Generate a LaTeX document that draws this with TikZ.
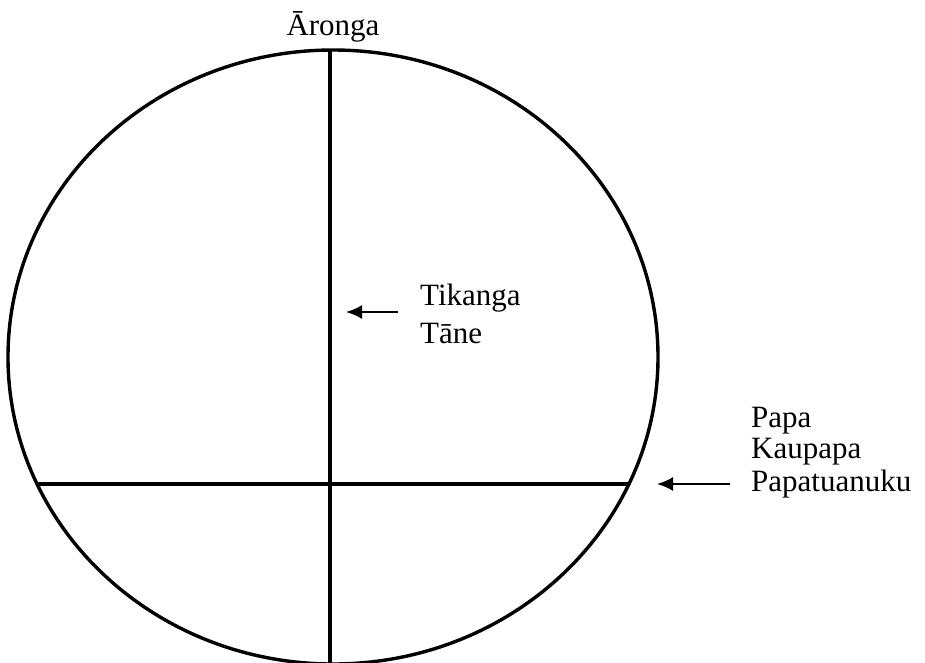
\documentclass[tikz,border=0pt]{standalone}
\usepackage{fontspec}
\setmainfont{Liberation Serif}
\usetikzlibrary{arrows.meta}
\begin{document}
\begin{tikzpicture}[x=1pt,y=-1pt,
  lbl/.style={anchor=base west,inner sep=0pt,font=\fontsize{31}{37}\selectfont},
  heavy/.style={line width=3.4pt},
  pointer/.style={line width=2pt,-{Latex[length=16pt,width=14pt]}}]
\useasboundingbox (0,0) rectangle (925,662);
\clip (0,0) rectangle (925,662);
% circle
\draw[heavy] (333,357) ellipse [x radius=325, y radius=307];
% lines
\coordinate (vt) at (330,50);
\coordinate (vb) at (330,670);
\coordinate (hl) at (37.5,484);
\coordinate (hr) at (628.5,484);
\draw[heavy] (vt) -- (vb);
\draw[heavy] (hl) -- (hr);
% labels
\node[anchor=base,inner sep=0pt,font=\fontsize{31}{37}\selectfont] (aronga) at (333,35) {Āronga};
\node[lbl] (tikanga) at (420,305) {Tikanga};
\node[lbl] (tane) at (420,343) {Tāne};
\node[lbl] (papa) at (751,427) {Papa};
\node[lbl] (kaupapa) at (751,458) {Kaupapa};
\node[lbl] (papatua) at (751,491) {Papatuanuku};
% arrows
\coordinate (a1s) at (398,312);
\coordinate (a1e) at (346,312);
\coordinate (a2s) at (730,484);
\coordinate (a2e) at (657,484);
\draw[pointer] (a1s) -- (a1e);
\draw[pointer] (a2s) -- (a2e);
\end{tikzpicture}
\end{document}
